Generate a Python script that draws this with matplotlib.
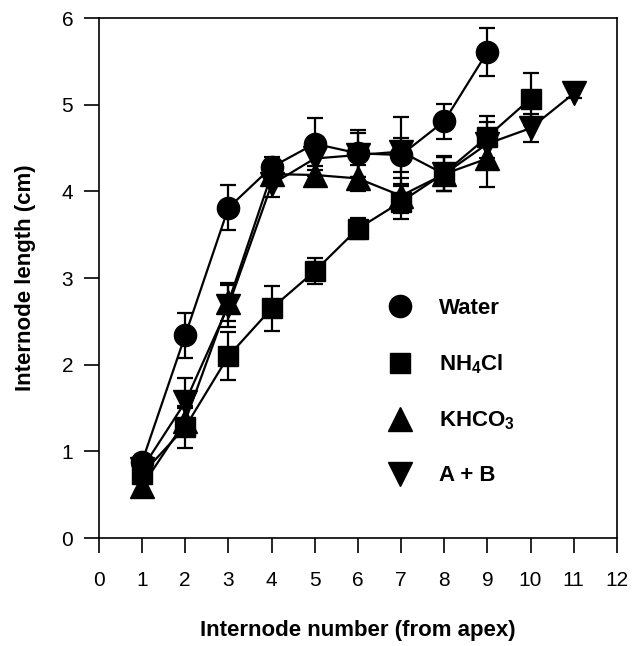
import matplotlib
matplotlib.use("Agg")
import matplotlib.pyplot as plt
from matplotlib.lines import Line2D

plt.rcParams['font.family'] = ['Liberation Sans', 'DejaVu Sans']
plt.rcParams['mathtext.fontset'] = 'custom'
plt.rcParams['mathtext.rm'] = 'Liberation Sans:bold'
plt.rcParams['mathtext.bf'] = 'Liberation Sans:bold'

# internode lengths (cm) by position from apex
water_x = [1, 2, 3, 4, 5, 6, 7, 8, 9]
water_y = [0.88, 2.34, 3.81, 4.28, 4.55, 4.44, 4.42, 4.81, 5.61]
water_err = [0.08, 0.26, 0.26, 0.12, 0.30, 0.27, 0.20, 0.20, 0.28]

nh4_x = [1, 2, 3, 4, 5, 6, 7, 8, 9, 10]
nh4_y = [0.74, 1.28, 2.10, 2.65, 3.08, 3.57, 3.88, 4.21, 4.63, 5.07]
nh4_err = [0.08, 0.24, 0.28, 0.26, 0.15, 0.12, 0.20, 0.20, 0.24, 0.30]

khco3_x = [1, 2, 3, 4, 5, 6, 7, 8, 9]
khco3_y = [0.60, 1.35, 2.72, 4.20, 4.19, 4.15, 3.95, 4.20, 4.38]
khco3_err = [0.06, 0.15, 0.22, 0.12, 0.10, 0.15, 0.20, 0.20, 0.33]

ab_x = [1, 2, 3, 4, 5, 6, 7, 8, 9, 10, 11]
ab_y = [0.80, 1.57, 2.68, 4.08, 4.38, 4.42, 4.46, 4.20, 4.55, 4.73, 5.13]
ab_err = [0.08, 0.28, 0.24, 0.15, 0.20, 0.25, 0.40, 0.20, 0.25, 0.16, 0.05]

series = [
    (water_x, water_y, water_err, 'o', 16, 'Water'),
    (nh4_x, nh4_y, nh4_err, 's', 15, r'$\mathbf{NH_4Cl}$'),
    (khco3_x, khco3_y, khco3_err, '^', 17, r'$\mathbf{KHCO_3}$'),
    (ab_x, ab_y, ab_err, 'v', 17, 'A + B'),
]

fig = plt.figure(figsize=(6.34, 6.46), dpi=100)
ax = fig.add_axes([0.156, 0.167, 0.817, 0.805])

handles = []
for x, y, err, m, ms, lab in series:
    ax.errorbar(x, y, yerr=err, color='black', marker=m, markersize=ms,
                linewidth=1.6, elinewidth=1.6, capsize=6, capthick=1.6)
    handles.append(Line2D([], [], color='black', marker=m, linestyle='none',
                          markersize=ms, label=lab))

ax.set_xlim(0, 12)
ax.set_ylim(0, 6)
ax.set_xticks(range(0, 13))
ax.set_yticks(range(0, 7))
ax.tick_params(direction='out', length=10.5, width=1.2, labelsize=15)
ax.tick_params(axis='x', pad=13.5)
ax.tick_params(axis='y', pad=8)
for s in ax.spines.values():
    s.set_linewidth(1.2)

ax.set_xlabel('Internode number (from apex)', fontsize=16, fontweight='bold', labelpad=21)
ax.set_ylabel('Internode length (cm)', fontsize=16, fontweight='bold', labelpad=18)

leg = ax.legend(handles=handles, loc='upper left', bbox_to_anchor=(0.51, 0.50),
                frameon=False, prop={'size': 16, 'weight': 'bold'},
                labelspacing=1.5, handletextpad=1.0, handlelength=1.5)

fig.savefig('out.png', dpi=100)
